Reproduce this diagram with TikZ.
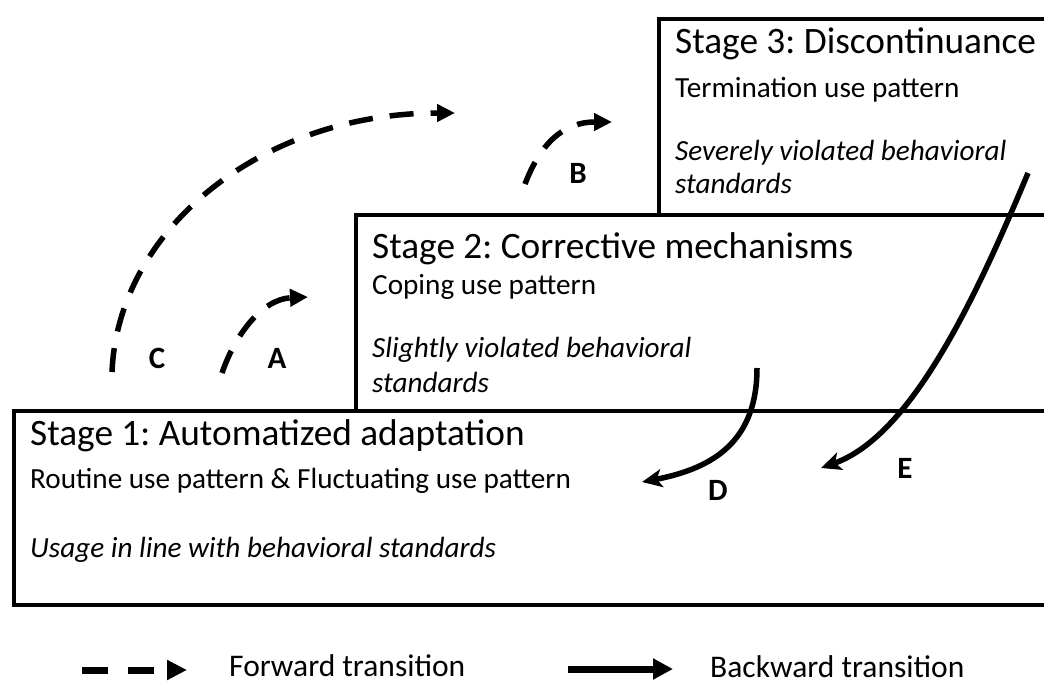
\documentclass[tikz,border=0pt]{standalone}
\usepackage{fontspec}
\setmainfont{Carlito}
\usetikzlibrary{arrows.meta}
\frenchspacing
\begin{document}
\begin{tikzpicture}[x=1pt,y=-1pt,
  stagebox/.style={draw, line width=4pt, anchor=north west, inner sep=0pt, minimum width=1100pt},
  stagehead/.style={anchor=base west, inner sep=0pt, font=\fontsize{37.3}{44}\selectfont},
  stageuse/.style={anchor=base west, inner sep=0pt, font=\fontsize{29.2}{35}\selectfont},
  stagenorm/.style={anchor=base west, inner sep=0pt, font=\fontsize{29.2}{35}\selectfont\itshape},
  lettertag/.style={inner sep=0pt, font=\fontsize{31}{37}\selectfont\bfseries},
  fwd/.style={line width=5.5pt, dash pattern=on 24pt off 17pt, -{Triangle[length=18pt,width=17pt]}},
  bwd/.style={line width=5.5pt, -{Stealth[length=20pt,width=18pt,inset=5pt]}},
  legendtext/.style={anchor=base west, inner sep=0pt, font=\fontsize{31.5}{37}\selectfont}]
\useasboundingbox (0,0) rectangle (1044,680);
\clip (0,0) rectangle (1044,680);

% stage boxes, stacked as steps
\node[stagebox, minimum height=196pt] (s3) at (657,17) {};
\node[stagebox, minimum height=196pt] (s2) at (354,213) {};
\node[stagebox, minimum height=194pt] (s1) at (12,409) {};

% stage 3
\node[stagehead] (h3) at (675,53) {Stage 3: Discontinuance};
\node[stageuse] (u3) at (675,97) {Termination use pattern};
\node[stagenorm] (n3a) at (675,160) {Severely violated behavioral};
\node[stagenorm] (n3b) at (675,193) {standards};

% stage 2
\node[stagehead] (h2) at (372,258) {Stage 2: Corrective mechanisms};
\node[stageuse] (u2) at (372,294) {Coping use pattern};
\node[stagenorm] (n2a) at (372,357) {Slightly violated behavioral};
\node[stagenorm] (n2b) at (372,392) {standards};

% stage 1
\node[stagehead] (h1) at (30,445) {Stage 1: Automatized adaptation};
\node[stageuse] (u1) at (30,488) {Routine use pattern \& Fluctuating use pattern};
\node[stagenorm] (n1) at (30,557) {Usage in line with behavioral standards};

% transition end points
\coordinate (c0) at (112,372);
\coordinate (c1) at (455,113);
\coordinate (a0) at (222,373);
\coordinate (a1) at (308,297);
\coordinate (b0) at (525,184);
\coordinate (b1) at (612,122);
\coordinate (d0) at (757,368);
\coordinate (d1) at (642,482);
\coordinate (e0) at (1028,173);
\coordinate (e1) at (821,468);

% forward transitions
\draw[fwd] (c0) .. controls (118,229) and (262,113) .. (c1);
\draw[fwd] (a0) .. controls (235,335) and (262,299) .. (a1);
\draw[fwd] (b0) .. controls (540,145) and (562,122) .. (b1);

% backward transitions
\draw[bwd] (d0) .. controls (757,440) and (715,468) .. (d1);
\draw[bwd] (e0) .. controls (975,300) and (911,436) .. (e1);

% transition letters
\node[lettertag] (tc) at (157,358) {C};
\node[lettertag] (ta) at (277,358) {A};
\node[lettertag] (tb) at (578,173) {B};
\node[lettertag] (td) at (718,490) {D};
\node[lettertag] (te) at (905,468) {E};

% legend
\coordinate (lf0) at (82,670);
\coordinate (lf1) at (187,670);
\coordinate (lb0) at (568,669);
\coordinate (lb1) at (673,669);
\draw[line width=7pt, dash pattern=on 26pt off 20pt, -{Triangle[length=20pt,width=19pt]}] (lf0) -- (lf1);
\draw[line width=7pt, -{Triangle[length=20pt,width=20pt]}] (lb0) -- (lb1);
\node[legendtext] (lft) at (229,676) {Forward transition};
\node[legendtext] (lbt) at (710,677) {Backward transition};
\end{tikzpicture}
\end{document}
